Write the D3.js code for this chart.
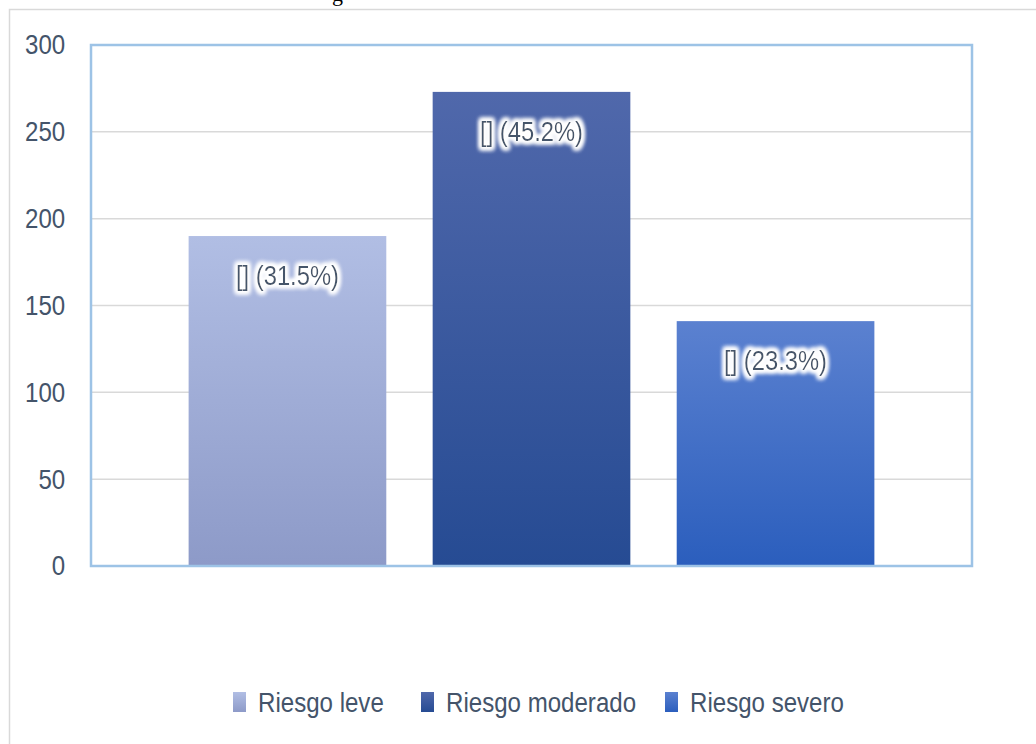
<html>
<head>
<script src="https://d3js.org/d3.v7.min.js"></script>
<style>
body { margin: 0; background: #fff; }
text { font-family: "Liberation Sans", Arial, sans-serif; }
</style>
</head>
<body>
<svg id="chart" width="1036" height="744"></svg>
<script>
var categories = ["Riesgo leve", "Riesgo moderado", "Riesgo severo"];
var counts = [190, 273, 141];
var percentLabels = ["[] (31.5%)", "[] (45.2%)", "[] (23.3%)"];
var yTicks = [0, 50, 100, 150, 200, 250, 300];
var topColors = ["#b1bee4", "#5068ab", "#5b81d0"];
var bottomColors = ["#8d9ac8", "#264b93", "#2b5ebd"];

var svg = d3.select("#chart");
var plotLeft = 91, plotRight = 972, plotTop = 45, plotBottom = 566;
var narrow = "scale(0.86,1)";  // calibri-ish condensed look

// outer chart frame, runs off the page like the reference
svg.append("rect")
  .attr("x", 9.5).attr("y", 9.5)
  .attr("width", 1100).attr("height", 800)
  .attr("fill", "none").attr("stroke", "#d9d9d9").attr("stroke-width", 1.5);

// clipped caption fragment at the very top
svg.append("text")
  .attr("x", 332).attr("y", 1)
  .style("font-family", "'Liberation Serif', 'DejaVu Serif', serif")
  .style("font-size", "22px")
  .attr("fill", "#000")
  .text("g");

var defs = svg.append("defs");
categories.forEach(function (c, i) {
  var g = defs.append("linearGradient").attr("id", "grad" + i)
    .attr("x1", 0).attr("y1", 0).attr("x2", 0).attr("y2", 1);
  g.append("stop").attr("offset", "0%").attr("stop-color", topColors[i]);
  g.append("stop").attr("offset", "100%").attr("stop-color", bottomColors[i]);
});

var glow = defs.append("filter").attr("id", "glow")
  .attr("x", "-20%").attr("y", "-40%").attr("width", "140%").attr("height", "180%");
glow.append("feMorphology").attr("in", "SourceAlpha").attr("operator", "dilate").attr("radius", 2).attr("result", "thick");
glow.append("feGaussianBlur").attr("in", "thick").attr("stdDeviation", 2.5).attr("result", "blur");
glow.append("feFlood").attr("flood-color", "#ffffff").attr("result", "white");
glow.append("feComposite").attr("in", "white").attr("in2", "blur").attr("operator", "in").attr("result", "halo");
var merge = glow.append("feMerge");
merge.append("feMergeNode").attr("in", "halo");
merge.append("feMergeNode").attr("in", "halo");
merge.append("feMergeNode").attr("in", "halo");
merge.append("feMergeNode").attr("in", "SourceGraphic");

var yScale = d3.scaleLinear().domain([0, 300]).range([plotBottom, plotTop]);
var xScale = d3.scaleBand().domain(categories).range([plotLeft, plotRight])
  .paddingInner(0.19).paddingOuter(0.4);

// gridlines
svg.append("g").selectAll("line").data(yTicks.slice(1)).enter().append("line")
  .attr("x1", plotLeft).attr("x2", plotRight)
  .attr("y1", function (d) { return yScale(d); })
  .attr("y2", function (d) { return yScale(d); })
  .attr("stroke", "#d9d9d9").attr("stroke-width", 1.5);

// y axis labels
var yAxis = d3.axisLeft(yScale).tickValues(yTicks).tickSize(0).tickPadding(30);
var ax = svg.append("g").attr("transform", "translate(" + plotLeft + ",0)").call(yAxis);
ax.select(".domain").remove();
ax.selectAll("text")
  .attr("transform", narrow)
  .style("font-size", "28px")
  .attr("fill", "#44546a");

// bars
svg.append("g").selectAll("rect").data(counts).enter().append("rect")
  .attr("x", function (d, i) { return xScale(categories[i]); })
  .attr("y", function (d) { return yScale(d); })
  .attr("width", xScale.bandwidth())
  .attr("height", function (d) { return yScale(0) - yScale(d); })
  .attr("fill", function (d, i) { return "url(#grad" + i + ")"; });

// plot area frame
svg.append("rect")
  .attr("x", plotLeft).attr("y", plotTop)
  .attr("width", plotRight - plotLeft).attr("height", plotBottom - plotTop)
  .attr("fill", "none").attr("stroke", "#9dc3e6").attr("stroke-width", 2.5);

// data labels
svg.append("g").selectAll("g").data(counts).enter().append("g")
  .attr("transform", function (d, i) {
    return "translate(" + (xScale(categories[i]) + xScale.bandwidth() / 2) + "," + (yScale(d) + 49) + ")";
  })
  .append("text")
  .attr("transform", "scale(0.88,1)")
  .attr("text-anchor", "middle")
  .attr("filter", "url(#glow)")
  .style("font-size", "27px")
  .attr("fill", "#44546a")
  .text(function (d, i) { return percentLabels[i]; });

// legend
var legendX = [233, 421, 665];
var leg = svg.append("g").selectAll("g").data(categories).enter().append("g")
  .attr("transform", function (d, i) { return "translate(" + legendX[i] + ",692)"; });
leg.append("rect").attr("width", 13).attr("height", 20)
  .attr("fill", function (d, i) { return "url(#grad" + i + ")"; });
leg.append("g").attr("transform", "translate(25,20)")
  .append("text")
  .attr("transform", narrow)
  .style("font-size", "28px")
  .attr("fill", "#44546a")
  .text(function (d) { return d; });
</script>
</body>
</html>
